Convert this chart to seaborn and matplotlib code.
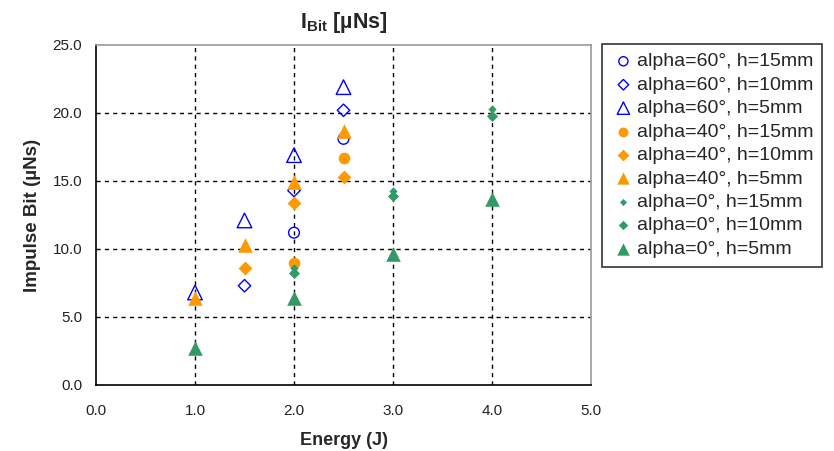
import numpy as np
import pandas as pd
import matplotlib.pyplot as plt
import seaborn as sns

# data
energy_a60_h15 = [2.0, 2.5]
ibit_a60_h15 = [11.2, 18.1]
energy_a60_h10 = [1.5, 2.0, 2.5]
ibit_a60_h10 = [7.3, 14.3, 20.2]
energy_a60_h5 = [1.0, 1.5, 2.0, 2.5]
ibit_a60_h5 = [6.8, 12.1, 16.9, 21.9]

energy_a40_h15 = [2.0, 2.5]
ibit_a40_h15 = [9.0, 16.7]
energy_a40_h10 = [1.5, 2.0, 2.5]
ibit_a40_h10 = [8.6, 13.4, 15.3]
energy_a40_h5 = [1.0, 1.5, 2.0, 2.5]
ibit_a40_h5 = [6.4, 10.3, 14.9, 18.7]

energy_a0_h15 = [2.0, 3.0, 4.0]
ibit_a0_h15 = [8.6, 14.3, 20.3]
energy_a0_h10 = [2.0, 3.0, 4.0]
ibit_a0_h10 = [8.2, 13.9, 19.8]
energy_a0_h5 = [1.0, 2.0, 3.0, 4.0]
ibit_a0_h5 = [2.7, 6.4, 9.6, 13.7]

labels = ["alpha=60°, h=15mm", "alpha=60°, h=10mm", "alpha=60°, h=5mm",
          "alpha=40°, h=15mm", "alpha=40°, h=10mm", "alpha=40°, h=5mm",
          "alpha=0°, h=15mm", "alpha=0°, h=10mm", "alpha=0°, h=5mm"]

blue = "#0000ff"
orange = "#ff9900"
green = "#339966"

series = [
    (energy_a60_h15, ibit_a60_h15, "o", 60, blue, False),
    (energy_a60_h10, ibit_a60_h10, "D", 40, blue, False),
    (energy_a60_h5, ibit_a60_h5, "^", 110, blue, False),
    (energy_a40_h15, ibit_a40_h15, "o", 70, orange, True),
    (energy_a40_h10, ibit_a40_h10, "D", 50, orange, True),
    (energy_a40_h5, ibit_a40_h5, "^", 110, orange, True),
    (energy_a0_h15, ibit_a0_h15, "D", 18, green, True),
    (energy_a0_h10, ibit_a0_h10, "D", 32, green, True),
    (energy_a0_h5, ibit_a0_h5, "^", 110, green, True),
]

sns.set_style("white")
plt.rcParams['font.family'] = ['Liberation Sans', 'DejaVu Sans']
plt.rcParams['mathtext.fontset'] = 'custom'
plt.rcParams['mathtext.bf'] = 'Liberation Sans:bold'
plt.rcParams['mathtext.rm'] = 'Liberation Sans'

fig = plt.figure(figsize=(8.34, 4.51), dpi=100)
ax = fig.add_axes([96/834, 1-385/451, (591-96)/834, (385-45)/451])

for (x, y, m, s, c, filled), lab in zip(series, labels):
    if filled:
        sns.scatterplot(x=x, y=y, marker=m, s=s, color=c, edgecolor=c,
                        linewidth=0, ax=ax, label=lab, zorder=3)
    else:
        sns.scatterplot(x=x, y=y, marker=m, s=s, color=c, facecolors="none",
                        edgecolor=c, linewidth=1, ax=ax, label=lab, zorder=3)

ax.set_xlim(0, 5)
ax.set_ylim(0, 25)
ax.set_xticks(np.arange(0, 5.1, 1))
ax.set_yticks(np.arange(0, 25.1, 5))
ax.set_xticklabels([f"{v:.1f}" for v in np.arange(0, 5.1, 1)])
ax.set_yticklabels([f"{v:.1f}" for v in np.arange(0, 25.1, 5)])
ax.tick_params(axis="both", direction="out", length=5, width=1, color="black",
               labelsize=11, labelcolor="#222222")
ax.tick_params(axis="x", pad=9)
ax.tick_params(axis="y", pad=5)
ax.grid(True, color="black", linestyle=(0, (3, 3)), linewidth=1)
ax.set_axisbelow(True)
# no gridlines on the frame itself
for gl in (ax.xaxis.get_gridlines()[0], ax.xaxis.get_gridlines()[-1],
           ax.yaxis.get_gridlines()[0], ax.yaxis.get_gridlines()[-1]):
    gl.set_visible(False)

for side in ["left", "bottom"]:
    ax.spines[side].set_color("black")
    ax.spines[side].set_linewidth(1.2)
for side in ["top", "right"]:
    ax.spines[side].set_color("#999999")
    ax.spines[side].set_linewidth(1.2)

ax.set_xlabel("Energy (J)", fontsize=13, fontweight="bold", labelpad=10)
ax.set_ylabel("Impulse Bit (µNs)", fontsize=13.5, fontweight="bold", labelpad=8)
ax.set_title(r"I$_{\mathbf{Bit}}$ [µNs]", fontsize=15.5, fontweight="bold", pad=12)

handles, labs = ax.get_legend_handles_labels()
ax.get_legend().remove()
leg = fig.legend(handles, labs, loc="upper left",
                 bbox_to_anchor=(602/834, 1-44/451), borderaxespad=0,
                 fontsize=14, labelspacing=0.3, handletextpad=0.05,
                 handlelength=1.3, markerscale=0.85, frameon=True,
                 fancybox=False, edgecolor="black", borderpad=0.45)
leg.get_frame().set_linewidth(1.2)

fig.savefig("out.png", dpi=100)
